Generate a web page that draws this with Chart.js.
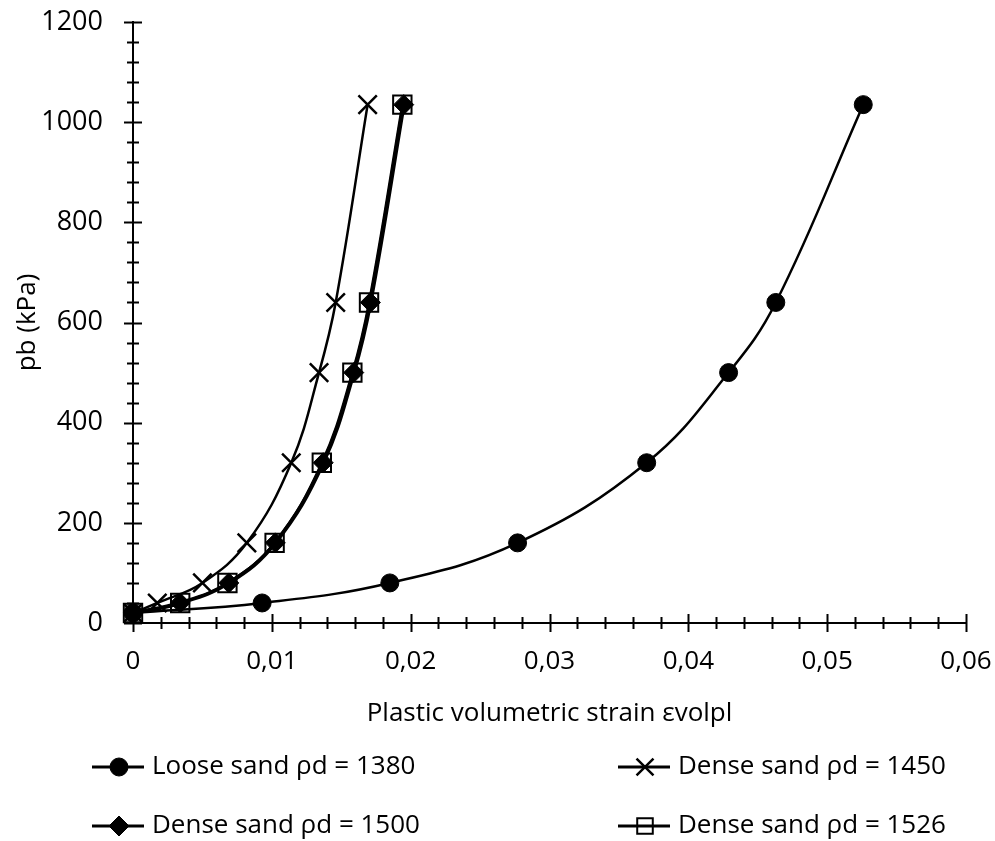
<!DOCTYPE html>
<html>
<head>
<meta charset="utf-8">
<script src="https://cdn.jsdelivr.net/npm/chart.js@4/dist/chart.umd.min.js"></script>
<style>
  html, body { margin: 0; padding: 0; background: #fff; }
  #wrap { width: 995px; height: 841px; }
</style>
</head>
<body>
<div id="wrap"><canvas id="chart" width="995" height="841"></canvas></div>
<script>
// pb values (kPa), same load steps for every sample
const pressure = [20, 40, 80, 160, 320, 500, 640, 1035];

// plastic volumetric strain
const strainLoose1380 = [0, 0.0093, 0.0185, 0.0277, 0.0370, 0.0429, 0.0463, 0.0526];
const strainDense1450 = [0, 0.00175, 0.0050, 0.0082, 0.0114, 0.0134, 0.0146, 0.0169];
const strainDense1500 = [0, 0.0034, 0.0069, 0.01025, 0.0137, 0.0159, 0.0171, 0.0195];
const strainDense1526 = [0, 0.0034, 0.0068, 0.0102, 0.0136, 0.0158, 0.0170, 0.0194];

const seriesNames = ['Loose sand ρd = 1380', 'Dense sand ρd = 1450', 'Dense sand ρd = 1500', 'Dense sand ρd = 1526'];
const xTickLabels = ['0', '0,01', '0,02', '0,03', '0,04', '0,05', '0,06'];
const yTickLabels = ['0', '200', '400', '600', '800', '1000', '1200'];

function toPoints(strain) {
  return strain.map((x, i) => ({ x: x, y: pressure[i] }))
}

Chart.defaults.font.family = "'Open Sans', sans-serif";
Chart.defaults.font.size = 26;
Chart.defaults.color = '#000';

// crossing major/minor tick marks like the original axes
const axisTicks = {
  id: 'axisTicks',
  beforeDatasetsDraw(chart) {
    const { ctx, chartArea, scales } = chart;
    ctx.save();
    ctx.strokeStyle = '#000';
    ctx.lineWidth = 2;
    ctx.beginPath();
    for (let i = 0; i <= 30; i++) {
      const px = Math.round(scales.x.getPixelForValue(i * 0.002)) + 0.5;
      const len = i % 5 === 0 ? 9 : 6;
      ctx.moveTo(px, chartArea.bottom - len);
      ctx.lineTo(px, chartArea.bottom + len);
    }
    for (let i = 0; i <= 30; i++) {
      const py = Math.round(scales.y.getPixelForValue(i * 40)) + 0.5;
      const len = i % 5 === 0 ? 9 : 6;
      ctx.moveTo(chartArea.left - len, py);
      ctx.lineTo(chartArea.left + len, py);
    }
    ctx.stroke();
    ctx.restore();
  }
};

// two-column legend under the axis title
const lineLegend = {
  id: 'lineLegend',
  afterDraw(chart) {
    const ctx = chart.ctx;
    const cols = [92, 618];
    const rows = [767, 826];
    ctx.save();
    chart.data.datasets.forEach((ds, i) => {
      const x0 = cols[i % 2];
      const y0 = rows[Math.floor(i / 2)];
      ctx.strokeStyle = '#000';
      ctx.lineWidth = 3;
      ctx.beginPath();
      ctx.moveTo(x0, y0);
      ctx.lineTo(x0 + 52, y0);
      ctx.stroke();
      ctx.fillStyle = ds.pointBackgroundColor;
      ctx.strokeStyle = '#000';
      ctx.lineWidth = ds.pointBorderWidth;
      Chart.helpers.drawPoint(ctx, {
        pointStyle: ds.pointStyle,
        radius: ds.legendRadius,
        rotation: 0,
        borderWidth: ds.pointBorderWidth
      }, x0 + 27, y0);
      ctx.fillStyle = '#000';
      ctx.font = "26px 'Open Sans', sans-serif";
      ctx.textBaseline = 'middle';
      ctx.textAlign = 'left';
      ctx.fillText(ds.label, x0 + 60, y0);
    });
    ctx.restore();
  }
};

// invisible tick marks only push the labels away from the axis
const hiddenTicks = length => ({
  display: true,
  drawOnChartArea: false,
  drawTicks: true,
  tickLength: length,
  tickColor: 'rgba(0,0,0,0)'
});

const ctx = document.getElementById('chart');

new Chart(ctx, {
  type: 'line',
  data: {
    datasets: [{
      label: seriesNames[0],
      data: toPoints(strainLoose1380),
      borderColor: '#000',
      borderWidth: 2.5,
      pointStyle: 'circle',
      pointRadius: 9,
      legendRadius: 9,
      pointBackgroundColor: '#000',
      pointBorderColor: '#000',
      pointBorderWidth: 1,
      tension: 0.4,
      clip: false
    }, {
      label: seriesNames[1],
      data: toPoints(strainDense1450),
      borderColor: '#000',
      borderWidth: 2.5,
      pointStyle: 'crossRot',
      pointRadius: 13,
      legendRadius: 12,
      pointBackgroundColor: '#000',
      pointBorderColor: '#000',
      pointBorderWidth: 2.5,
      tension: 0.4,
      clip: false
    }, {
      label: seriesNames[2],
      data: toPoints(strainDense1500),
      borderColor: '#000',
      borderWidth: 4,
      pointStyle: 'rectRot',
      pointRadius: 10,
      legendRadius: 10,
      pointBackgroundColor: '#000',
      pointBorderColor: '#000',
      pointBorderWidth: 1,
      tension: 0.4,
      clip: false
    }, {
      label: seriesNames[3],
      data: toPoints(strainDense1526),
      borderColor: '#000',
      borderWidth: 2.5,
      pointStyle: 'rect',
      pointRadius: 13,
      legendRadius: 11,
      pointBackgroundColor: 'rgba(0,0,0,0)',
      pointBorderColor: '#000',
      pointBorderWidth: 2,
      tension: 0.4,
      clip: false
    }]
  },
  options: {
    responsive: false,
    animation: false,
    layout: { padding: { left: 0, right: 29, top: 22, bottom: 108 } },
    plugins: {
      legend: { display: false },
      tooltip: { enabled: false }
    },
    elements: { point: { hoverRadius: 0 } },
    scales: {
      x: {
        type: 'linear',
        min: 0,
        max: 0.06,
        ticks: {
          stepSize: 0.01,
          padding: 0,
          font: { size: 26 },
          callback: v => xTickLabels[Math.round(v / 0.01)]
        },
        grid: hiddenTicks(23),
        border: { display: true, color: '#000', width: 2 },
        title: {
          display: true,
          text: 'Plastic volumetric strain εvolpl',
          font: { size: 26 },
          padding: { top: 0, bottom: 4 }
        },
        afterFit: scale => { scale.height = 110 }
      },
      y: {
        type: 'linear',
        min: 0,
        max: 1200,
        ticks: {
          stepSize: 200,
          padding: 0,
          font: { size: 27 },
          callback: v => yTickLabels[Math.round(v / 200)]
        },
        grid: hiddenTicks(30),
        border: { display: true, color: '#000', width: 2 },
        title: {
          display: true,
          text: 'pb (kPa)',
          font: { size: 26 },
          padding: { top: 12, bottom: 0 }
        },
        afterFit: scale => { scale.width = 133 }
      }
    }
  },
  plugins: [axisTicks, lineLegend]
});
</script>
</body>
</html>
